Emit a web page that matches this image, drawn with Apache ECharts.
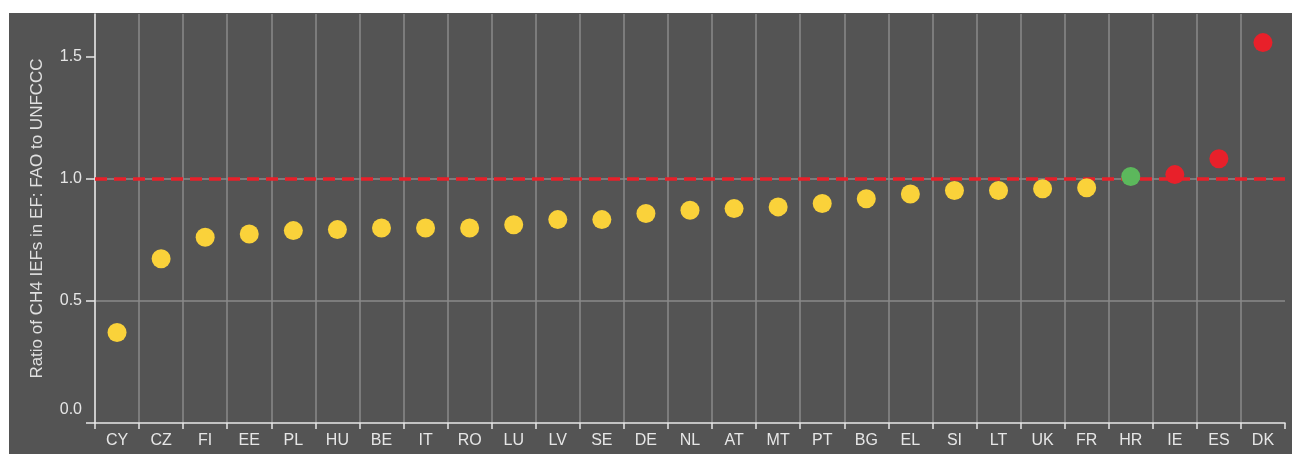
<!DOCTYPE html>
<html>
<head>
<meta charset="utf-8">
<script src="https://cdn.jsdelivr.net/npm/echarts@6/dist/echarts.min.js"></script>
<style>
  html, body { margin: 0; padding: 0; background: #ffffff; }
  #chart { position: absolute; left: 9px; top: 13px; width: 1283px; height: 441px; }
</style>
</head>
<body>
<div id="chart"></div>
<script>
// Categories (countries) and ratio values
const countries = ['CY','CZ','FI','EE','PL','HU','BE','IT','RO','LU','LV','SE','DE','NL','AT','MT','PT','BG','EL','SI','LT','UK','FR','HR','IE','ES','DK'];
const ratios = [0.370, 0.672, 0.760, 0.773, 0.787, 0.791, 0.798, 0.798, 0.798, 0.811, 0.832, 0.832, 0.857, 0.870, 0.877, 0.884, 0.898, 0.917, 0.937, 0.951, 0.951, 0.958, 0.962, 1.008, 1.016, 1.081, 1.556];
// Classification of countries (green = about equal, red = above)
const greenGroup = ['HR'];
const redGroup = ['IE','ES','DK'];
const yTicks = [0, 0.5, 1.0, 1.5];
const referenceLine = 1.0;
const yTitle = 'Ratio of CH4 IEFs in EF: FAO to UNFCCC';

const COLORS = { yellow: '#fad23a', green: '#5cb85c', red: '#e8202a' };
const FONT = '"Liberation Sans", Arial, sans-serif';

function colorFor(c) {
  if (greenGroup.includes(c)) return COLORS.green;
  if (redGroup.includes(c)) return COLORS.red;
  return COLORS.yellow;
}

const chart = echarts.init(document.getElementById('chart'));
chart.setOption({
  backgroundColor: '#545454',
  animation: false,
  grid: { left: 86, right: 7, top: 1, bottom: 31 },
  xAxis: {
    type: 'category',
    data: countries,
    boundaryGap: true,
    axisLine: { show: true, lineStyle: { color: '#e6e6e6', width: 1.5 } },
    axisTick: { show: true, length: 6, lineStyle: { color: '#e6e6e6', width: 1.5 } },
    axisLabel: { color: '#e6e6e6', fontSize: 16, fontFamily: FONT, margin: 10, interval: 0 },
    splitLine: { show: true, showMaxLine: false, lineStyle: { color: '#8a8a8a', width: 1.5 } }
  },
  yAxis: {
    type: 'value',
    min: 0,
    max: 1.673,
    interval: 0.5,
    name: yTitle,
    nameLocation: 'middle',
    nameGap: 49,
    nameRotate: 90,
    nameTextStyle: { color: '#e0e0e0', fontSize: 17, fontFamily: FONT },
    axisLine: { show: true, lineStyle: { color: '#e6e6e6', width: 1.5 } },
    axisTick: { show: true, length: 9, customValues: yTicks, lineStyle: { color: '#e6e6e6', width: 1.5 } },
    axisLabel: {
      customValues: yTicks,
      color: '#e6e6e6', fontSize: 16, fontFamily: FONT, margin: 13,
      formatter: function (v) {
        const s = v.toFixed(1);
        return v === 0 ? '{z|' + s + '}' : s;
      },
      rich: { z: { color: '#e6e6e6', fontSize: 16, fontFamily: FONT, padding: [0, 0, 26, 0] } }
    },
    splitLine: { show: true, showMinLine: false, showMaxLine: false, lineStyle: { color: '#8a8a8a', width: 1.5 } }
  },
  series: [{
    type: 'scatter',
    symbolSize: 19,
    itemStyle: { opacity: 1 },
    data: ratios.map((v, i) => ({ value: v, itemStyle: { color: colorFor(countries[i]), opacity: 1 } })),
    z: 5,
    markLine: {
      silent: true,
      symbol: ['none', 'none'],
      label: { show: false },
      emphasis: { disabled: true },
      lineStyle: { color: '#e8202a', width: 3.5, type: [12, 7], opacity: 1 },
      data: [{ yAxis: referenceLine }]
    }
  }]
});
</script>
</body>
</html>
